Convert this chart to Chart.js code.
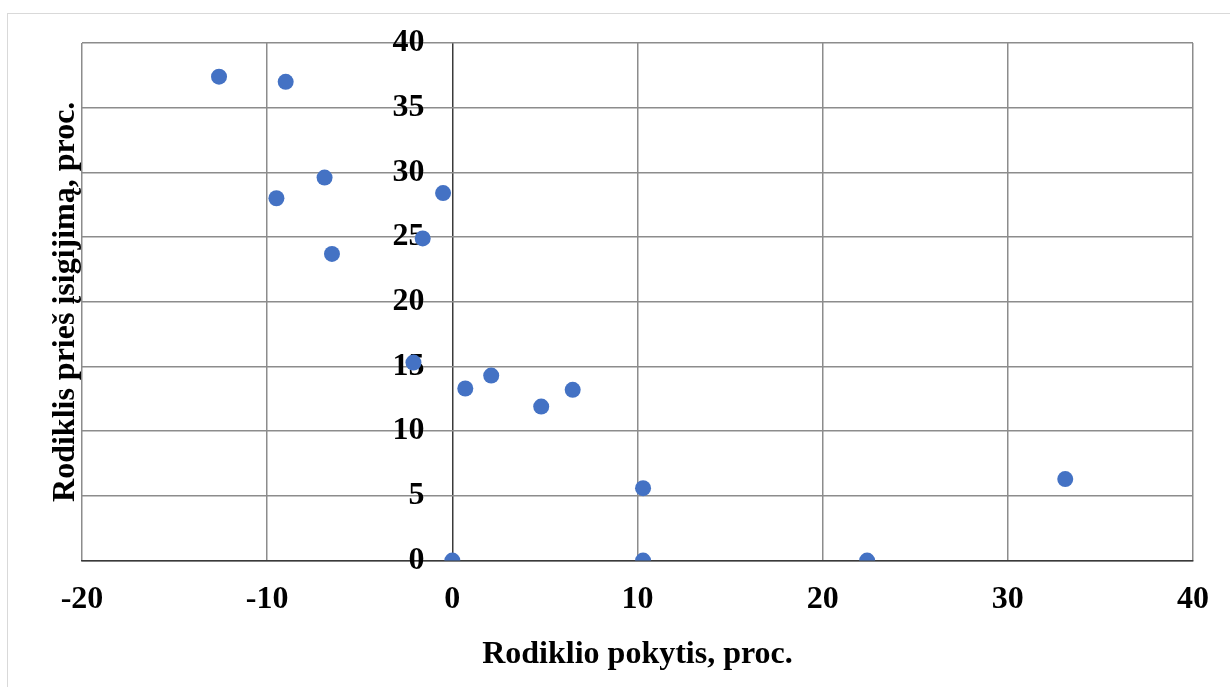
<!DOCTYPE html>
<html>
<head>
<meta charset="utf-8">
<script src="https://cdn.jsdelivr.net/npm/chart.js@4/dist/chart.umd.min.js"></script>
<style>
  html, body { margin: 0; padding: 0; background: #fff; }
  #wrap { position: relative; width: 1230px; height: 687px; overflow: hidden; }
  #frame { position: absolute; left: 7px; top: 13px; width: 1260px; height: 700px; border: 1.5px solid #d9d9d9; }
  #chart { position: absolute; left: 0; top: 0; }
</style>
</head>
<body>
<div id="wrap">
  <div id="frame"></div>
  <canvas id="chart" width="1230" height="687"></canvas>
</div>
<script>
// pokytis (x) ir rodiklis prieš įsigijimą (y), proc.
const changeValues = [-12.6, -9.0, -9.5, -6.9, -6.5, -0.5, -1.6, -2.1, 0.7, 2.1, 4.8, 6.5, 10.3, 10.3, 0, 22.4, 33.1];
const beforeValues = [37.4, 37.0, 28.0, 29.6, 23.7, 28.4, 24.9, 15.3, 13.3, 14.3, 11.9, 13.2, 5.6, 0, 0, 0, 6.3];

const xTitle = "Rodiklio pokytis, proc.";
const yTitle = "Rodiklis prieš įsigijimą, proc.";
const xMin = -20, xMax = 40, xStep = 10;
const yMin = 0, yMax = 40, yStep = 5;

const points = changeValues.map((x, i) => ({ x: x, y: beforeValues[i] }));

const labelFont = { family: "Liberation Serif", size: 32, weight: "bold" };
const gridColor = "#8c8c8c";
const axisColor = "#3a3a3a";

new Chart(document.getElementById("chart"), {
  type: "scatter",
  data: {
    datasets: [
      {
        data: points,
        backgroundColor: "#4472C4",
        borderWidth: 0,
        pointRadius: 8,
        pointHoverRadius: 8,
      },
    ],
  },
  options: {
    responsive: false,
    animation: false,
    layout: { padding: { top: 43, right: 37, bottom: 8, left: 0 } },
    plugins: { legend: { display: false }, tooltip: { enabled: false } },
    scales: {
      x: {
        type: "linear",
        position: "bottom",
        min: xMin,
        max: xMax,
        ticks: { stepSize: xStep, font: labelFont, color: "#000", padding: 20 },
        grid: {
          // vertical line at 0 acts as the y axis
          color: (ctx) => (ctx.tick && ctx.tick.value === 0 ? axisColor : gridColor),
          lineWidth: 1.5,
          drawTicks: false,
        },
        border: { color: axisColor, width: 1.5 },
        title: { display: true, text: xTitle, font: { ...labelFont, lineHeight: 1 }, color: "#000", padding: { top: 0, bottom: 8 } },
      },
      y: {
        type: "linear",
        // labels sit just left of the zero line
        position: { x: -1.5 },
        min: yMin,
        max: yMax,
        ticks: { stepSize: yStep, font: labelFont, color: "#000" },
        grid: { color: gridColor, lineWidth: 1.5, drawTicks: false },
        border: { display: false },
      },
      yTitleAxis: {
        type: "linear",
        position: "left",
        min: yMin,
        max: yMax,
        ticks: { display: false },
        grid: { display: false, drawTicks: false },
        border: { display: false },
        title: { display: true, text: yTitle, font: { ...labelFont, lineHeight: 1 }, color: "#000", padding: { top: 50, bottom: 0 } },
      },
    },
  },
});
</script>
</body>
</html>
